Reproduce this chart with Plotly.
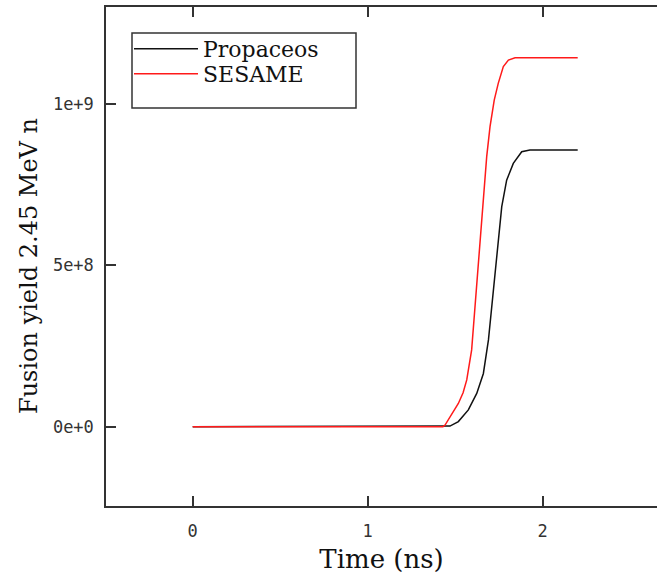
import plotly.graph_objects as go

# Data (time in ns, yield in neutrons)
t_propaceos = [0, 1.45, 1.47, 1.518, 1.575, 1.623, 1.661, 1.690, 1.709, 1.728,
               1.746, 1.766, 1.794, 1.832, 1.88, 1.927, 2.2]
y_propaceos = [0, 0, 0.002e9, 0.016e9, 0.052e9, 0.103e9, 0.165e9, 0.269e9, 0.372e9,
               0.475e9, 0.58e9, 0.682e9, 0.764e9, 0.816e9, 0.852e9, 0.8575e9, 0.8575e9]

t_sesame = [0, 1.43, 1.442, 1.461, 1.49, 1.518, 1.545, 1.566, 1.594, 1.609, 1.623,
            1.642, 1.661, 1.680, 1.699, 1.723, 1.746, 1.775, 1.804, 1.842, 2.2]
y_sesame = [0, 0, 0.005e9, 0.021e9, 0.045e9, 0.072e9, 0.105e9, 0.145e9, 0.238e9,
            0.341e9, 0.444e9, 0.58e9, 0.723e9, 0.837e9, 0.93e9, 1.012e9, 1.064e9,
            1.116e9, 1.136e9, 1.1435e9, 1.1435e9]

series_names = ["Propaceos", "SESAME"]
x_ticks = [0, 1, 2]
y_ticks = [0, 5e8, 1e9]
x_title = "Time (ns)"
y_title = "Fusion yield 2.45 MeV n"

W, H = 657, 582
ML, MR, MT, MB = 106, 0, 7, 76
PW = W - ML - MR
PH = H - MT - MB


def px_x(p):
    return (p - ML) / PW


def px_y(p):
    return (H - MB - p) / PH


fig = go.Figure()
fig.add_trace(go.Scatter(x=t_propaceos, y=y_propaceos, mode="lines", name=series_names[0],
                         legend="legend",
                         line=dict(color="#111111", width=1.5)))
fig.add_trace(go.Scatter(x=t_sesame, y=y_sesame, mode="lines", name=series_names[1],
                         legend="legend2",
                         line=dict(color="#ff1a1a", width=1.5)))

tickfont = dict(family="DejaVu Sans Mono", size=17, color="#333333")
legfont = dict(family="DejaVu Serif", size=22, color="#111111")

leg_common = dict(xanchor="left", yanchor="top", bgcolor="rgba(0,0,0,0)",
                  borderwidth=0, font=legfont, itemwidth=64)

fig.update_layout(
    width=W, height=H,
    margin=dict(l=ML, r=MR, t=MT, b=MB, pad=0),
    plot_bgcolor="white", paper_bgcolor="white",
    showlegend=True,
    legend=dict(x=px_x(129), y=px_y(28), **leg_common),
    legend2=dict(x=px_x(129), y=px_y(53), **leg_common),
    xaxis=dict(
        range=[(ML - 192.7) / 175, (W - MR - 192.7) / 175],
        tickvals=x_ticks, ticktext=[str(v) for v in x_ticks],
        ticks="inside", ticklen=10, tickwidth=1.5, tickcolor="#333333",
        showline=True, linecolor="#333333", linewidth=1.5, mirror="ticks",
        showgrid=False, zeroline=False, tickfont=tickfont, automargin=False,
        ticklabelstandoff=9,
        title=dict(text=x_title, font=dict(family="DejaVu Serif", size=26, color="#111111"),
                   standoff=10),
    ),
    yaxis=dict(
        range=[-(H - MB - 426.7) / 322.7 * 1e9, (426.7 - MT) / 322.7 * 1e9],
        tickvals=y_ticks, tickformat=".0e",
        ticks="inside", ticklen=10, tickwidth=1.5, tickcolor="#333333",
        showline=True, linecolor="#333333", linewidth=1.5, mirror=False,
        showgrid=False, zeroline=False, tickfont=tickfont, automargin=False,
        ticklabelstandoff=7,
    ),
    annotations=[dict(text=y_title, textangle=-90, xref="paper", yref="paper",
                      x=px_x(29), y=px_y(266), xanchor="center", yanchor="middle",
                      showarrow=False,
                      font=dict(family="DejaVu Serif", size=24, color="#111111"))],
    shapes=[dict(type="rect", xref="paper", yref="paper",
                 x0=px_x(132), x1=px_x(356), y0=px_y(108), y1=px_y(33),
                 line=dict(color="#333333", width=1.5), fillcolor="rgba(0,0,0,0)")],
)

fig.write_html(
    "out.html",
    config={"responsive": False, "displayModeBar": False},
    post_script=(
        "document.body.style.margin='0';document.body.style.overflow='hidden';"
        "var gd=document.getElementById('{plot_id}');"
        "Plotly.relayout(gd,{width:%d,height:%d});" % (W, H)
    ),
)
